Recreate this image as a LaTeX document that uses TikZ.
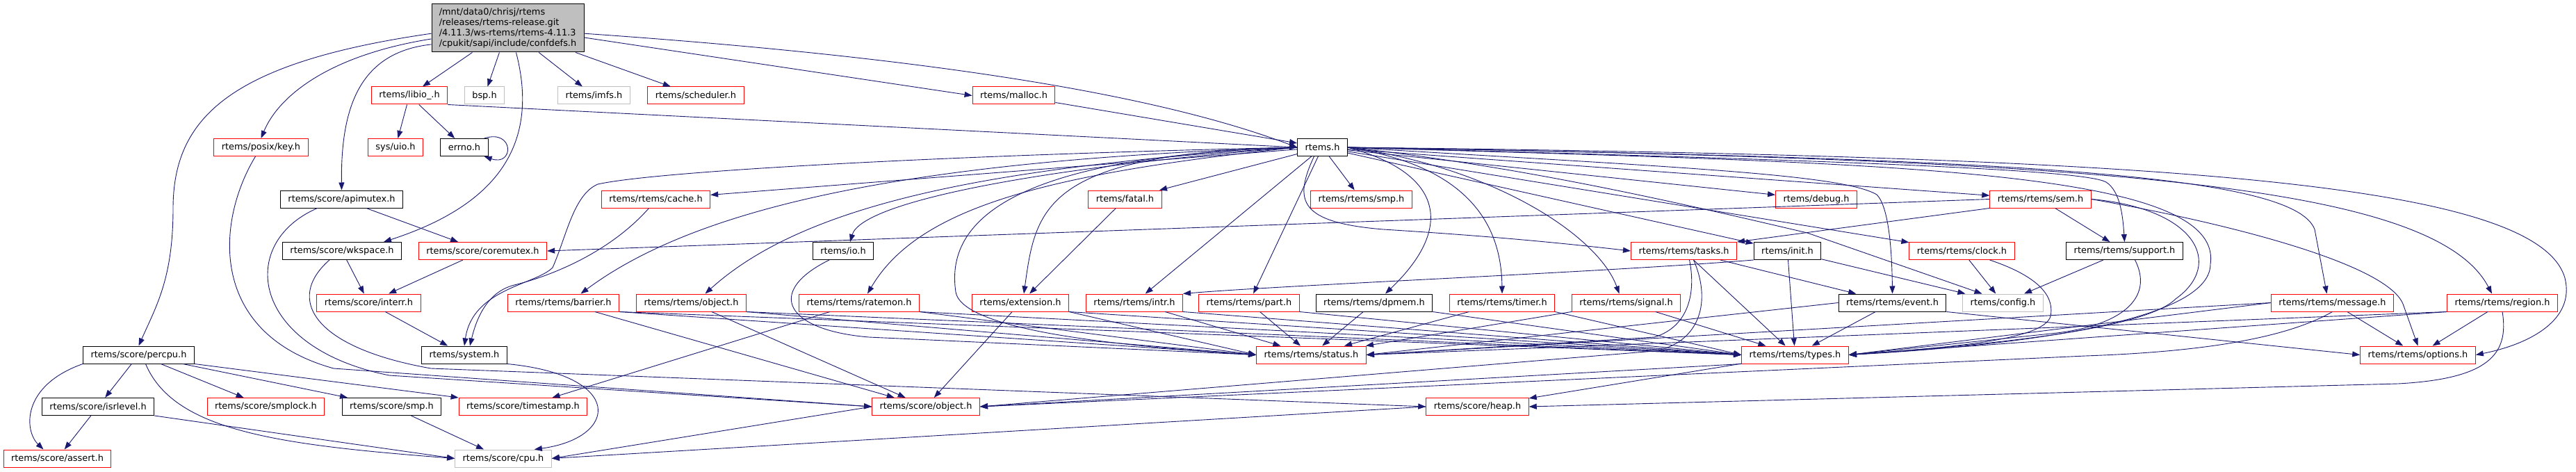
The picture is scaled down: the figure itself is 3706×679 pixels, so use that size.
\documentclass[tikz,border=0pt]{standalone}
\usepackage{fontspec}
\setmainfont{DejaVu Sans}
\usepackage{tikz}
\usetikzlibrary{arrows.meta, calc}
\definecolor{edgeblue}{HTML}{191970}
\definecolor{hdrred}{HTML}{FF0000}
\definecolor{hdrgray}{HTML}{BFBFBF}
\newcommand{\hdrfont}{\fontsize{12.9}{15}\selectfont}

\begin{document}
\begin{tikzpicture}[x=1pt, y=-1pt,
	hdr/.style={draw, rectangle, fill=white, minimum height=25pt, inner xsep=11pt, inner ysep=0pt, line width=1pt, font=\hdrfont},
	redhdr/.style={hdr, draw=hdrred},
	blkhdr/.style={hdr, draw=black},
	grayhdr/.style={hdr, draw=hdrgray},
	dep/.style={draw=edgeblue, line width=0.9pt, -{Triangle[length=11pt,width=8pt]}}]
	\useasboundingbox (0,0) rectangle (3706,679);
	
	% root
	\node[blkhdr, fill=hdrgray, align=left, minimum width=219pt, minimum height=69pt, inner xsep=9pt] (root) at (730.5,40.5) {/mnt/data0/chrisj/rtems\\/releases/rtems-release.git\\/4.11.3/ws-rtems/rtems-4.11.3\\/cpukit/sapi/include/confdefs.h};
	
	% row 1
	\node[redhdr] (libio) at (589,137.5) {rtems/libio\_.h};
	\node[grayhdr] (bsp) at (697,137.5) {bsp.h};
	\node[grayhdr] (imfs) at (854.5,137.5) {rtems/imfs.h};
	\node[redhdr] (sched) at (1001,137.5) {rtems/scheduler.h};
	\node[redhdr] (malloc) at (1458.5,137.5) {rtems/malloc.h};
	% row 2
	\node[redhdr] (key) at (375.5,212) {rtems/posix/key.h};
	\node[redhdr] (uio) at (569,212) {sys/uio.h};
	\node[blkhdr] (errno) at (668,212) {errno.h};
	\node[blkhdr] (rtemsh) at (1902.5,212) {rtems.h};
	% row 3
	\node[blkhdr] (apimutex) at (491.5,286.5) {rtems/score/apimutex.h};
	\node[redhdr] (cache) at (943.5,286.5) {rtems/rtems/cache.h};
	\node[redhdr] (fatal) at (1618.5,286.5) {rtems/fatal.h};
	\node[redhdr] (smpr) at (1958.5,286.5) {rtems/rtems/smp.h};
	\node[redhdr] (debug) at (2613,286.5) {rtems/debug.h};
	\node[redhdr] (sem) at (2935.5,286.5) {rtems/rtems/sem.h};
	% row 4
	\node[blkhdr] (wkspace) at (492,361) {rtems/score/wkspace.h};
	\node[redhdr] (coremutex) at (694.5,361) {rtems/score/coremutex.h};
	\node[blkhdr] (io) at (1213,361) {rtems/io.h};
	\node[redhdr] (tasks) at (2422.5,361) {rtems/rtems/tasks.h};
	\node[blkhdr] (init) at (2571.5,361) {rtems/init.h};
	\node[redhdr] (clock) at (2822.5,361) {rtems/rtems/clock.h};
	\node[blkhdr] (support) at (3056.5,361) {rtems/rtems/support.h};
	% row 5
	\node[redhdr] (interr) at (530.5,435.5) {rtems/score/interr.h};
	\node[redhdr] (barrier) at (810.5,435.5) {rtems/rtems/barrier.h};
	\node[redhdr] (robject) at (994.5,435.5) {rtems/rtems/object.h};
	\node[redhdr] (ratemon) at (1236,435.5) {rtems/rtems/ratemon.h};
	\node[redhdr] (extension) at (1468,435.5) {rtems/extension.h};
	\node[redhdr] (intr) at (1632,435.5) {rtems/rtems/intr.h};
	\node[redhdr] (part) at (1797,435.5) {rtems/rtems/part.h};
	\node[blkhdr] (dpmem) at (1977,435.5) {rtems/rtems/dpmem.h};
	\node[redhdr] (timer) at (2161,435.5) {rtems/rtems/timer.h};
	\node[redhdr] (signal) at (2339.5,435.5) {rtems/rtems/signal.h};
	\node[blkhdr] (event) at (2722.5,435.5) {rtems/rtems/event.h};
	\node[grayhdr] (config) at (2881.5,435.5) {rtems/config.h};
	\node[redhdr] (message) at (3355.5,435.5) {rtems/rtems/message.h};
	\node[redhdr] (region) at (3600,435.5) {rtems/rtems/region.h};
	% row 6
	\node[blkhdr] (percpu) at (199.5,510.5) {rtems/score/percpu.h};
	\node[blkhdr] (system) at (668,510.5) {rtems/system.h};
	\node[redhdr] (status) at (1886.5,510.5) {rtems/rtems/status.h};
	\node[redhdr] (types) at (2582.5,510.5) {rtems/rtems/types.h};
	\node[redhdr] (options) at (3478.5,510.5) {rtems/rtems/options.h};
	% row 7
	\node[blkhdr] (isrlevel) at (141,585) {rtems/score/isrlevel.h};
	\node[redhdr] (smplock) at (382.5,585) {rtems/score/smplock.h};
	\node[blkhdr] (smps) at (563.5,585) {rtems/score/smp.h};
	\node[redhdr] (timestamp) at (752.5,585) {rtems/score/timestamp.h};
	\node[redhdr] (sobject) at (1332,585) {rtems/score/object.h};
	\node[redhdr] (heap) at (2125.5,585) {rtems/score/heap.h};
	% row 8
	\node[redhdr] (assert) at (82.5,659.5) {rtems/score/assert.h};
	\node[grayhdr] (cpu) at (724,659.5) {rtems/score/cpu.h};
	
	% confdefs.h
	\draw[dep] (root) -- (libio);
	\draw[dep] (root) -- (bsp);
	\draw[dep] (root) -- (imfs);
	\draw[dep] (root) -- (sched);
	\draw[dep] (root.-7.5) -- (malloc.west);
	\draw[dep] (root.-4) .. controls (1300,80) and (1650,130) .. (rtemsh.west);
	\draw[dep] (root.-172) .. controls (470,80) and (400,140) .. (key.north);
	\draw[dep] (root.-168) .. controls (520,75) and (490,150) .. (apimutex.north);
	\draw[dep] (root.-176) .. controls (330,90) and (249,170) .. (249,300) .. controls (249,400) and (225,440) .. (percpu.north);
	\draw[dep] ([xshift=12pt]root.south) .. controls (780,220) and (700,300) .. ([xshift=60pt]wkspace.north);
	
	% libio_.h, errno.h, malloc.h
	\draw[dep] (libio) -- (uio);
	\draw[dep] (libio) -- (errno);
	\draw[dep] (libio.south east) -- (rtemsh.west);
	\draw[dep] ([xshift=-6pt]errno.north east) .. controls (740,185) and (740,240) .. ([xshift=-6pt]errno.south east);
	\draw[dep] (malloc) -- (rtemsh);
	
	% rtems.h
	\draw[dep] (rtemsh) -- (cache);
	\draw[dep] (rtemsh.west) .. controls (1400,222) and (950,245) .. (860,265) .. controls (825,280) and (815,340) .. (795,385) .. controls (770,410) and (680,415) .. (system.north);
	\draw[dep] (rtemsh.west) .. controls (1300,230) and (1000,300) .. ([xshift=25pt]barrier.north);
	\draw[dep] (rtemsh.west) .. controls (1400,240) and (1150,300) .. ([xshift=20pt]robject.north);
	\draw[dep] (rtemsh.west) .. controls (1500,240) and (1240,290) .. ([xshift=10pt]io.north);
	\draw[dep] (rtemsh.west) .. controls (1500,250) and (1320,300) .. ([xshift=12pt]ratemon.north);
	\draw[dep] (rtemsh.west) .. controls (1500,220) and (1490,300) .. ([xshift=5pt]extension.north);
	\draw[dep] (rtemsh.west) .. controls (1450,225) and (1360,320) .. (1375,420) .. controls (1385,480) and (1650,500) .. (status.west);
	\draw[dep] (rtemsh) -- (fatal);
	\draw[dep] (rtemsh) -- (intr);
	\draw[dep] (rtemsh) -- (part);
	\draw[dep] (rtemsh) -- (smpr);
	\draw[dep] (rtemsh.east) .. controls (2080,250) and (2090,330) .. ([xshift=16pt]dpmem.north);
	\draw[dep] (rtemsh.east) .. controls (2120,240) and (2160,330) .. (timer.north);
	\draw[dep] (rtemsh.east) .. controls (2150,240) and (2300,340) .. ([xshift=-10pt]signal.north);
	\draw[dep] ([xshift=-12pt]rtemsh.south) .. controls (1860,290) and (1870,320) .. (1990,330) .. controls (2150,340) and (2250,350) .. (tasks.west);
	\draw[dep] (rtemsh) -- (debug);
	\draw[dep] (rtemsh) -- (sem);
	\draw[dep] (rtemsh) -- (init);
	\draw[dep] (rtemsh) -- (clock);
	\draw[dep] (rtemsh.east) .. controls (2400,240) and (2650,250) .. (2700,280) .. controls (2720,300) and (2722,380) .. (event.north);
	\draw[dep] (rtemsh.east) .. controls (2200,240) and (2450,300) .. (2600,335) -- ([xshift=-30pt]config.north);
	\draw[dep] (rtemsh.east) .. controls (2700,232) and (3000,245) .. (3030,262) .. controls (3050,275) and (3054,310) .. (support.north);
	\draw[dep] (rtemsh.east) .. controls (2900,228) and (3300,250) .. (3330,330) -- ([xshift=-8pt]message.north);
	\draw[dep] (rtemsh.east) .. controls (3000,230) and (3500,260) .. ([xshift=-15pt]region.north);
	\draw[dep] (rtemsh.east) .. controls (3100,225) and (3650,260) .. (3690,400) .. controls (3705,460) and (3640,495) .. (options.east);
	\draw[dep] (rtemsh.east) .. controls (2700,235) and (3200,240) .. (3180,380) .. controls (3180,470) and (2850,500) .. (types.east);
	
	% rtems/rtems/sem.h
	\draw[dep] (sem.west) -- (coremutex.east);
	\draw[dep] (sem.south west) -- (tasks.north east);
	\draw[dep] (sem) -- (support);
	\draw[dep] (sem.east) .. controls (3200,320) and (3440,380) .. (3458,440) -- (options.north);
	\draw[dep] (sem.east) .. controls (3160,300) and (3200,380) .. (3130,430) .. controls (3080,480) and (2800,500) .. (types.east);
	
	% row 4 headers
	\draw[dep] (init.south west) .. controls (2300,392) and (1850,410) .. (intr.north east);
	\draw[dep] (init) -- (types);
	\draw[dep] (init) -- (config);
	\draw[dep] (clock) -- (config);
	\draw[dep] ([xshift=40pt]clock.south) .. controls (2940,400) and (2955,430) .. (2950,455) .. controls (2940,490) and (2800,500) .. (types.east);
	\draw[dep] (support) -- (config);
	\draw[dep] ([xshift=15pt]support.south) .. controls (3100,430) and (3050,470) .. (2950,480) -- (types.east);
	\draw[dep] (tasks) -- (event);
	\draw[dep] (tasks) -- (types);
	\draw[dep] ([xshift=8pt]tasks.south) .. controls (2440,420) and (2430,470) .. (2380,485) -- (status.east);
	\draw[dep] ([xshift=14pt]tasks.south) .. controls (2465,440) and (2440,495) .. (2380,505) -- (sobject.east);
	\draw[dep] ([xshift=-20pt]io.south) .. controls (1100,420) and (1130,475) .. (1250,485) -- (status.west);
	
	% row 5 headers
	\foreach \src in {barrier,robject,ratemon,extension} {
		\draw[dep] (\src.south east) -- (status.west);
		\draw[dep] (\src.south east) -- (types.west);
	}
	\foreach \src in {intr,part,dpmem,timer,signal} \draw[dep] (\src) -- (status);
	\foreach \src in {intr,part,dpmem,timer} \draw[dep] (\src.south east) -- (types.west);
	\draw[dep] (signal) -- (types);
	\foreach \src in {barrier,robject,extension} \draw[dep] (\src) -- (sobject);
	\draw[dep] (ratemon) -- (timestamp);
	\draw[dep] (fatal) -- (extension);
	\draw[dep] (event.west) -- (status.east);
	\draw[dep] (event) -- (types);
	\draw[dep] (event.south east) -- (options.west);
	\draw[dep] (message.west) -- (status.east);
	\draw[dep] (message.west) -- (types.east);
	\draw[dep] (message) -- (options);
	\draw[dep] (message.south) .. controls (3300,480) and (3200,505) .. (3000,512) -- (sobject.east);
	\draw[dep] (region.south west) -- (status.east);
	\draw[dep] (region.south west) -- (types.east);
	\draw[dep] (region) -- (options);
	\draw[dep] (region.south) .. controls (3610,510) and (3580,545) .. (3450,552) -- (heap.east);
	
	% score headers
	\draw[dep] ([xshift=-10pt]cache.south) .. controls (880,360) and (800,395) .. (740,410) .. controls (700,420) and (685,460) .. ([xshift=8pt]system.north);
	\draw[dep] (system.south east) .. controls (900,540) and (890,630) .. ([xshift=-25pt]cpu.north east);
	\draw[dep] (interr) -- (system);
	\draw[dep] (coremutex) -- (interr);
	\draw[dep] (wkspace) -- (interr);
	\draw[dep] ([xshift=-18pt]wkspace.south) .. controls (410,430) and (450,500) .. (620,530) -- (heap.west);
	\draw[dep] (apimutex) -- (coremutex);
	\draw[dep] ([xshift=-35pt]apimutex.south) .. controls (340,350) and (360,500) .. (560,540) -- (sobject.west);
	\draw[dep] ([xshift=-8pt]key.south) .. controls (310,320) and (300,480) .. (480,530) -- (sobject.west);
	\draw[dep] (percpu.south west) .. controls (30,555) and (35,620) .. ([xshift=-20pt]assert.north);
	\draw[dep] (percpu) -- (isrlevel);
	\draw[dep] (percpu) -- (smplock);
	\draw[dep] (percpu) -- (smps);
	\draw[dep] (percpu.south east) -- (timestamp.north west);
	\draw[dep] ([xshift=10pt]percpu.south) .. controls (250,620) and (400,640) .. (cpu.west);
	\draw[dep] (isrlevel) -- (assert);
	\draw[dep] (isrlevel.south east) -- (cpu.west);
	\draw[dep] (smps) -- (cpu);
	\draw[dep] (sobject.west) -- (cpu.east);
	\draw[dep] (heap.west) -- (cpu.east);
	\draw[dep] (types.south west) -- (sobject.east);
	\draw[dep] (types) -- (heap);
	
\end{tikzpicture}
\end{document}
